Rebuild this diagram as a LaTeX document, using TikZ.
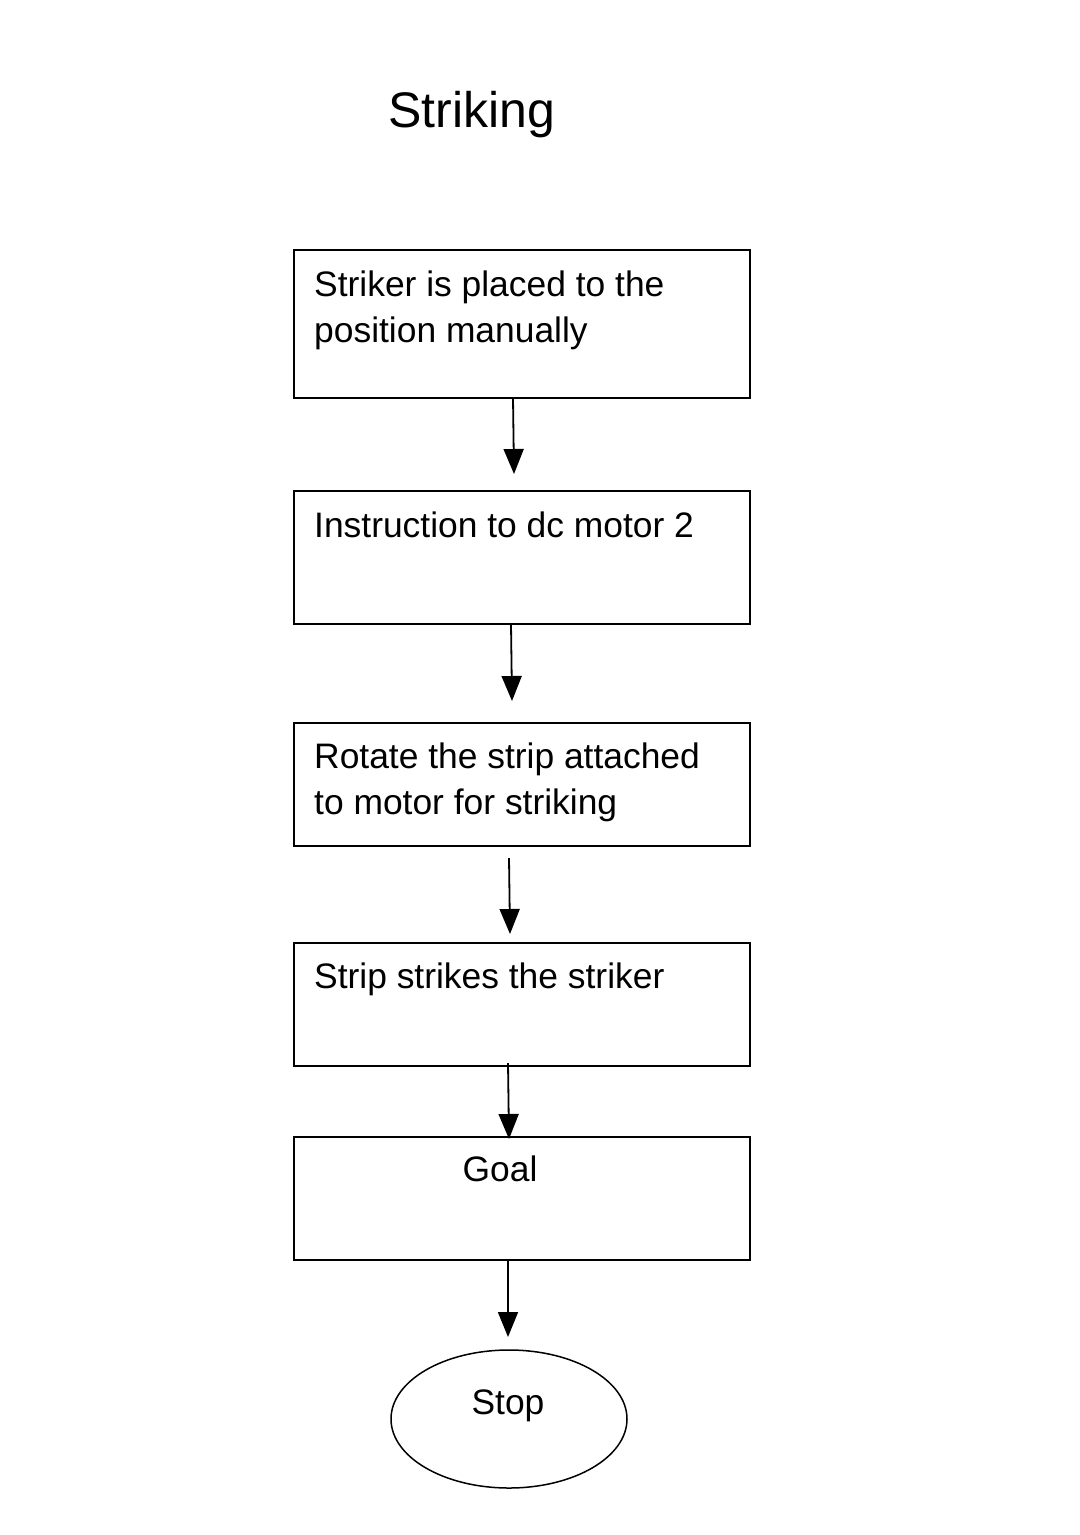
\documentclass[tikz,border=0pt]{standalone}
\usepackage{fontspec}
\setmainfont{Liberation Sans}
\usetikzlibrary{arrows.meta,shapes.geometric}
\tikzset{
  box/.style={draw, line width=1.5bp, rectangle, inner sep=0pt},
  txt/.style={anchor=base west, inner sep=0pt, font=\fontsize{35.4bp}{46bp}\selectfont},
  ctxt/.style={anchor=base, inner sep=0pt, font=\fontsize{35.4bp}{46bp}\selectfont},
  flow/.style={line width=1.8bp, -{Triangle[width=20bp,length=25bp]}}
}
\begin{document}
\begin{tikzpicture}[x=1bp,y=1bp]
\useasboundingbox[fill=white] (0,0) rectangle (1079,-1535);
\node[anchor=base, inner sep=0pt, font=\fontsize{50bp}{60bp}\selectfont] (title) at (472,-128) {Striking};
% boxes
\node[box, minimum width=456bp, minimum height=148bp] (b1) at (522,-324) {};
\node[box, minimum width=456bp, minimum height=133bp] (b2) at (522,-557.5) {};
\node[box, minimum width=456bp, minimum height=123bp] (b3) at (522,-784.5) {};
\node[box, minimum width=456bp, minimum height=123bp] (b4) at (522,-1004.5) {};
\node[box, minimum width=456bp, minimum height=123bp] (b5) at (522,-1198.5) {};
\node[draw, line width=1.5bp, ellipse, minimum width=236bp, minimum height=138bp, inner sep=0pt] (stop) at (509,-1419) {};
% texts
\node[txt] (t1a) at (314,-296) {Striker is placed to the};
\node[txt] (t1b) at (314,-342) {position manually};
\node[txt] (t2) at (314,-537) {Instruction to dc motor 2};
\node[txt] (t3a) at (314,-768) {Rotate the strip attached};
\node[txt] (t3b) at (314,-814) {to motor for striking};
\node[txt] (t4) at (314,-988) {Strip strikes the striker};
\node[ctxt] (t5) at (500,-1181) {Goal};
\node[ctxt] (t6) at (508,-1414) {Stop};
% connector ends
\coordinate (a1s) at (513,-398);
\coordinate (a1e) at (514,-474);
\coordinate (a2s) at (511,-624);
\coordinate (a2e) at (512,-701);
\coordinate (a3s) at (509,-858);
\coordinate (a3e) at (510,-934);
\coordinate (a4s) at (508,-1063);
\coordinate (a4e) at (509,-1139);
\coordinate (a5s) at (508,-1260);
\coordinate (a5e) at (508,-1337);
\draw[flow] (a1s) -- (a1e);
\draw[flow] (a2s) -- (a2e);
\draw[flow] (a3s) -- (a3e);
\draw[flow] (a4s) -- (a4e);
\draw[flow] (a5s) -- (a5e);
\end{tikzpicture}
\end{document}
